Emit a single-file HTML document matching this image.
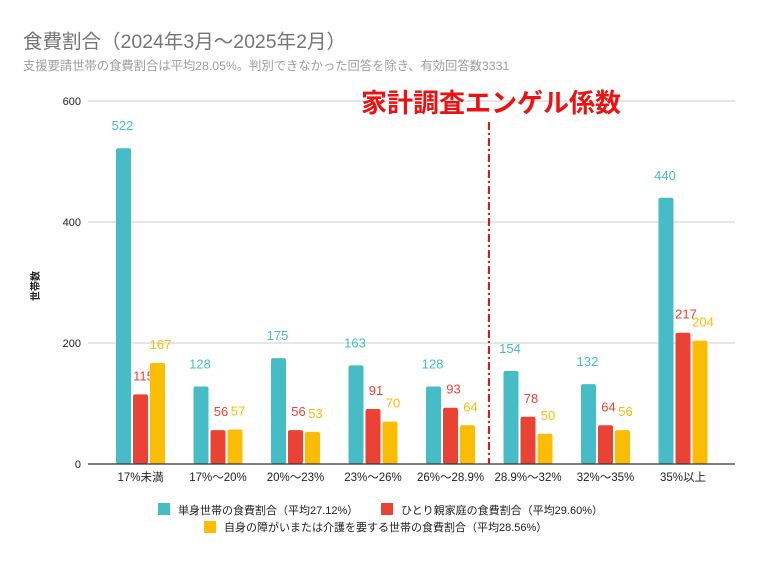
<!DOCTYPE html>
<html><head><meta charset="utf-8"><style>
body{margin:0;background:#fff;}
svg text{font-family:"Liberation Sans","Noto Sans CJK JP",sans-serif;}
</style></head><body>
<svg width="763" height="563" viewBox="0 0 763 563" xmlns="http://www.w3.org/2000/svg">
<rect width="763" height="563" fill="#fff"/>
<text x="23" y="48" font-size="19.5" fill="#757575">食費割合（2024年3月～2025年2月）</text>
<text x="23" y="70" font-size="12.3" fill="#9e9e9e">支援要請世帯の食費割合は平均28.05%。判別できなかった回答を除き、有効回答数3331</text>
<g id="grid"></g>
<g id="bars"></g>
<line x1="489" y1="122" x2="489" y2="464" stroke="#ee1111" stroke-width="2" stroke-dasharray="8,3,2,3"/>
<text x="361" y="112" font-size="26" font-weight="bold" fill="#ee1111">家計調査エンゲル係数</text>
<text transform="translate(39,286) rotate(-90)" font-size="10" font-weight="bold" text-anchor="middle" fill="#222">世帯数</text>
<g>
<rect x="158" y="503" width="12" height="12" fill="#46bdc6"/>
<text x="178" y="514" font-size="11" fill="#222">単身世帯の食費割合（平均27.12%）</text>
<rect x="381" y="503" width="12" height="12" fill="#ea4335"/>
<text x="401" y="514" font-size="11" fill="#222">ひとり親家庭の食費割合（平均29.60%）</text>
<rect x="204" y="521" width="12" height="12" fill="#fbbc04"/>
<text x="224" y="531" font-size="11" fill="#222">自身の障がいまたは介護を要する世帯の食費割合（平均28.56%）</text>
</g>
</svg>
<script>
const categories=["17%未満","17%～20%","20%～23%","23%～26%","26%～28.9%","28.9%～32%","32%～35%","35%以上"];
const single=[522,128,175,163,128,154,132,440];
const singleParent=[115,56,56,91,93,78,64,217];
const disability=[167,57,53,70,64,50,56,204];
const yTicks=[0,200,400,600];
const ns="http://www.w3.org/2000/svg";
const y=v=>464-v*(363/600);
const cx=i=>140.5+77.5*i;
function mk(t,a,p){const e=document.createElementNS(ns,t);for(const k in a)e.setAttribute(k,a[k]);p.appendChild(e);return e;}
const grid=document.getElementById('grid');
yTicks.forEach(t=>{
 if(t>0){const l=mk('line',{x1:88,x2:735,y1:y(t),y2:y(t),stroke:'#cccccc','stroke-width':1},grid);
 
 }
 const tx=mk('text',{x:81,y:y(t)+4,'font-size':11,'text-anchor':'end',fill:'#222'},grid);
 tx.textContent=t;
 
 
});
const bars=document.getElementById('bars');
const series=[[single,'#46bdc6'],[singleParent,'#ea4335'],[disability,'#fbbc04']];
categories.forEach((c,i)=>{
 series.forEach((s,j)=>{
  const v=s[0][i];const x=cx(i)-24.5+j*17;
  const r=mk('rect',{x:x,y:y(v),width:15,height:464-y(v),rx:2,fill:s[1]},bars);
  
  
  const lx=x+7.5+(j==0?-1:3);
  const lbl=mk('text',{x:lx,y:y(v)-(j==0?18:14),'font-size':13,'text-anchor':'middle',fill:s[1]},bars);
  lbl.textContent=v;
  
  
 });
 const t=mk('text',{x:cx(i),y:481,'font-size':11.5,'text-anchor':'middle',fill:'#222'},bars);
 t.textContent=c;
 
 
});
const ax=mk('line',{x1:88,x2:735,y1:464,y2:464,stroke:'#333','stroke-width':1.2},bars);


</script>
</body></html>
